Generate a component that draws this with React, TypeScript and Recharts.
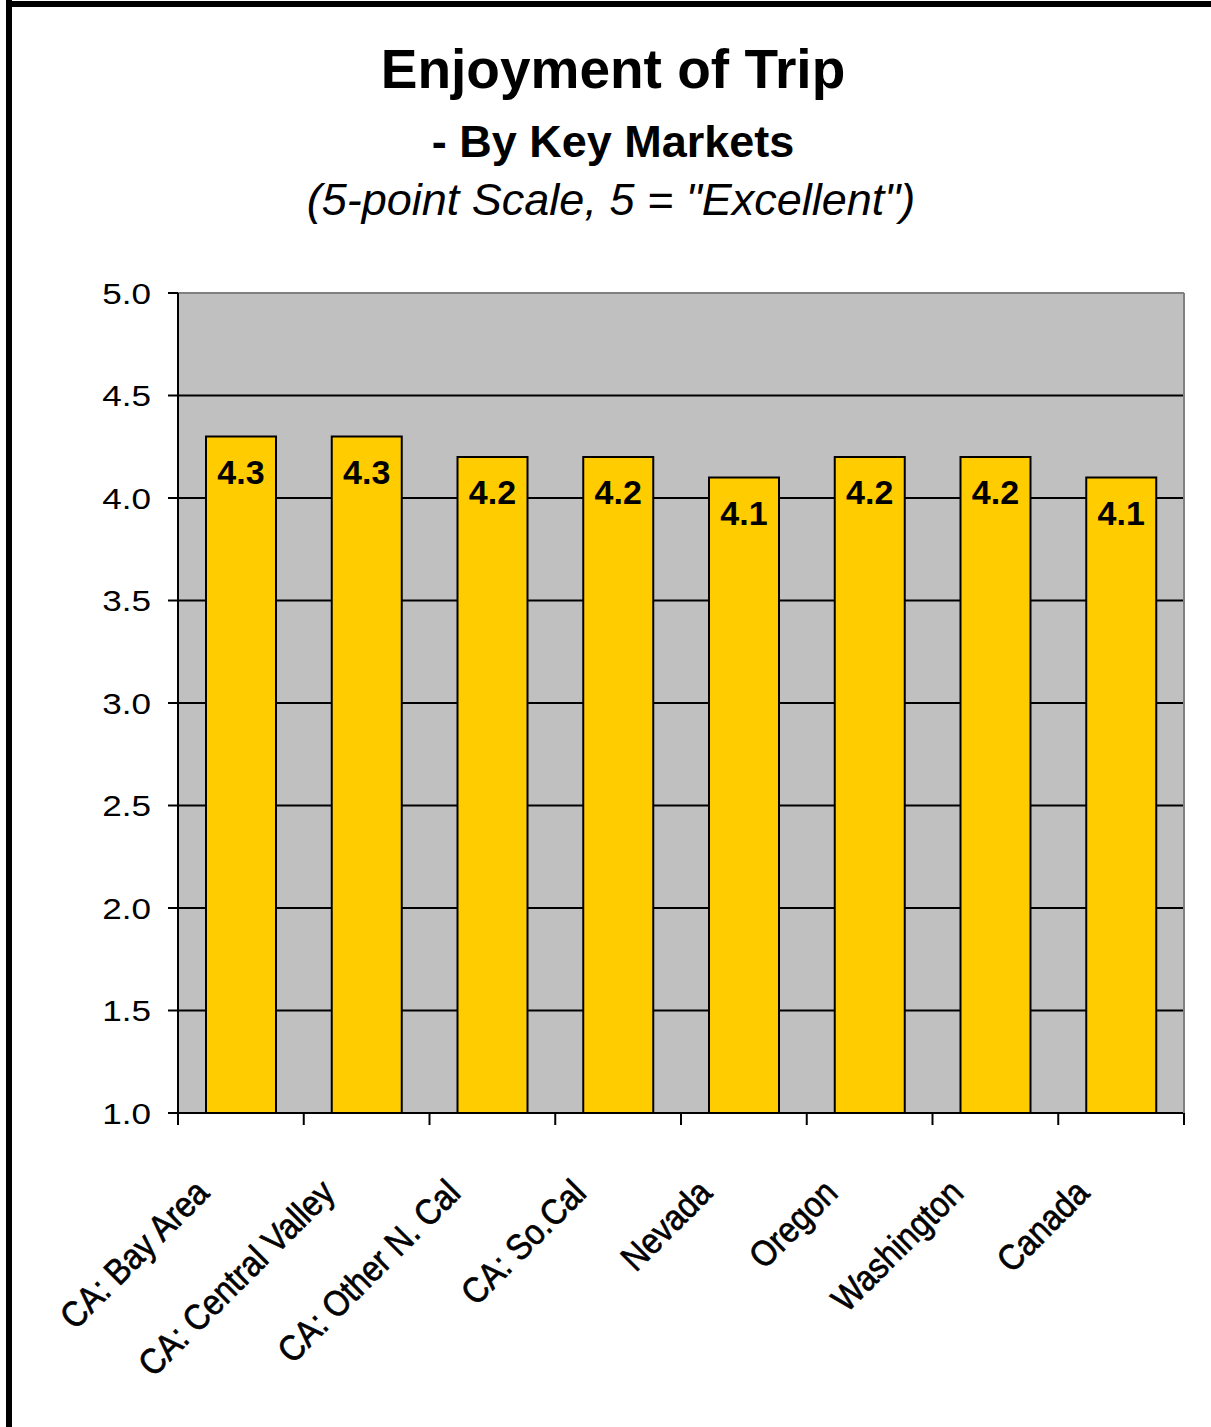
import { Bar, BarChart, CartesianGrid, LabelList, ReferenceLine, XAxis, YAxis } from 'recharts';

const markets = [
  'CA: Bay Area',
  'CA: Central Valley',
  'CA: Other N. Cal',
  'CA: So.Cal',
  'Nevada',
  'Oregon',
  'Washington',
  'Canada',
];
const enjoyment = [4.3, 4.3, 4.2, 4.2, 4.1, 4.2, 4.2, 4.1];
const scoreTicks = [1.0, 1.5, 2.0, 2.5, 3.0, 3.5, 4.0, 4.5, 5.0];

const rows = markets.map((market, i) => ({ market, score: enjoyment[i] }));

const FONT = '"Liberation Sans", Arial, sans-serif';
const TICK_GAP = 8; // recharts default tickSize + tickMargin
const TICK_LEN = 12;

// category names slanted 45°, a bit narrow and heavy like the original.
// tick marks sit on the category boundaries, half a band either side of the label.
function MarketTick({ x, y, payload, index, visibleTicksCount }: any) {
  const half = payload.offset ?? 0;
  const axisY = y - TICK_GAP;
  const isLast = index === visibleTicksCount - 1;
  return (
    <g>
      <line x1={x - half} x2={x - half} y1={axisY} y2={axisY + TICK_LEN} stroke="#000" strokeWidth={2} />
      {isLast && (
        <line x1={x + half} x2={x + half} y1={axisY} y2={axisY + TICK_LEN} stroke="#000" strokeWidth={2} />
      )}
      <g transform={`translate(${x - 30}, ${y + 74}) rotate(-45) scale(0.89, 1)`}>
        <text
          x={0}
          y={0}
          textAnchor="end"
          fontFamily={FONT}
          fontSize={36}
          fill="#000"
          stroke="#000"
          strokeWidth={0.7}
        >
          {payload.value}
        </text>
      </g>
    </g>
  );
}

// score labels are drawn a little wide in the original
function ScoreTick({ x, y, payload }: any) {
  return (
    <g transform={`translate(${x}, ${y}) scale(1.17, 1)`}>
      <text x={0} y={0} dy="0.355em" textAnchor="end" fontFamily={FONT} fontSize={30} fill="#000">
        {Number(payload.value).toFixed(1)}
      </text>
    </g>
  );
}

export default function App() {
  return (
    <div
      style={{
        position: 'absolute',
        left: 0,
        top: 0,
        width: 1211,
        height: 1427,
        background: '#fff',
        overflow: 'hidden',
      }}
    >
      {/* page frame: thick rule on the left and top only */}
      <div style={{ position: 'absolute', left: 6, top: 0, width: 6, height: 1427, background: '#000' }} />
      <div style={{ position: 'absolute', left: 6, top: 1, width: 1205, height: 6, background: '#000' }} />

      <svg width={1211} height={240} style={{ position: 'absolute', left: 0, top: 0 }}>
        <text x={613} y={88} textAnchor="middle" fontFamily={FONT} fontSize={55} fontWeight="bold">
          Enjoyment of Trip
        </text>
        <text x={613} y={157} textAnchor="middle" fontFamily={FONT} fontSize={45} fontWeight="bold">
          - By Key Markets
        </text>
        <text x={611} y={215} textAnchor="middle" fontFamily={FONT} fontSize={45} fontStyle="italic">
          (5-point Scale, 5 = "Excellent")
        </text>
      </svg>

      <div style={{ position: 'absolute', left: 0, top: 0 }}>
        <BarChart
          width={1211}
          height={1427}
          data={rows}
          margin={{ top: 293, right: 26, bottom: 313, left: 98 }}
          barSize={70}
        >
          <CartesianGrid vertical={false} stroke="#000" strokeWidth={2} fill="#C0C0C0" fillOpacity={1} />
          <XAxis
            dataKey="market"
            interval={0}
            tickLine={false}
            axisLine={{ stroke: '#000', strokeWidth: 2 }}
            tick={<MarketTick />}
            height={1}
          />
          <YAxis
            domain={[1, 5]}
            ticks={scoreTicks}
            interval={0}
            width={80}
            tickSize={10}
            tickMargin={17}
            tickLine={{ stroke: '#000', strokeWidth: 2 }}
            axisLine={{ stroke: '#000', strokeWidth: 2 }}
            tick={<ScoreTick />}
          />
          <YAxis
            yAxisId="frame"
            orientation="right"
            domain={[1, 5]}
            width={1}
            tick={false}
            tickLine={false}
            axisLine={{ stroke: '#808080', strokeWidth: 2 }}
          />
          <ReferenceLine y={5} stroke="#808080" strokeWidth={2} />
          <Bar dataKey="score" fill="#FFCC00" stroke="#000" strokeWidth={2} isAnimationActive={false}>
            <LabelList
              dataKey="score"
              position="insideTop"
              offset={23}
              formatter={(v: number) => v.toFixed(1)}
              style={{ fill: '#000', fontFamily: FONT, fontSize: 34, fontWeight: 'bold' }}
            />
          </Bar>
        </BarChart>
      </div>
    </div>
  );
}
